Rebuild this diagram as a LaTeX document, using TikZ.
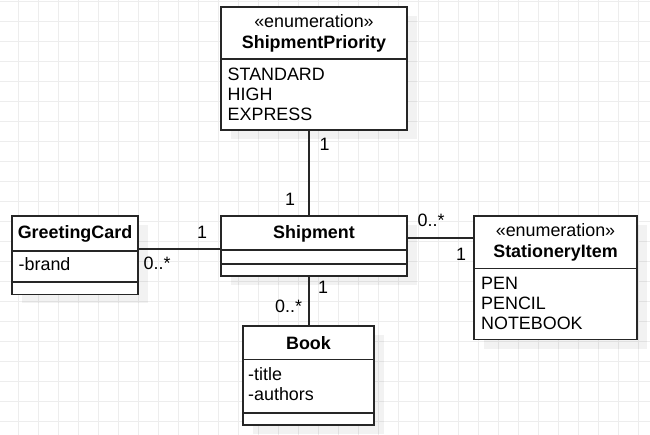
\documentclass[tikz,border=0pt]{standalone}
\usepackage{fontspec}
\setmainfont{Liberation Sans}
\usetikzlibrary{positioning,calc,shadows}

\tikzset{
  cls/.style 2 args={draw=black!85, line width=1.3pt, fill=white, inner sep=0pt, outer sep=0pt,
    minimum width=#1pt, minimum height=#2pt},
  shade/.style={drop shadow={shadow xshift=10pt, shadow yshift=-9pt, fill=black, opacity=0.05}},
  assoc/.style={draw=black!85, line width=1.3pt},
  txt/.style={inner sep=0pt, font=\fontsize{17.9}{20}\selectfont},
  ttl/.style={txt, anchor=base, font=\fontsize{17.9}{20}\selectfont\bfseries},
  stereo/.style={txt, anchor=base},
  item/.style={txt, anchor=base west},
  mult/.style={txt, anchor=base west},
}

\begin{document}
\begin{tikzpicture}[x=1pt, y=-1pt]
        \useasboundingbox (0,0) rectangle (650,435);
        %% Grid
        \begin{scope}
          \clip (0,0) rectangle (650,435);
          \draw[black!7, line width=0.9pt, shift={(18.3,1)}] (-40,-40) grid[step=20pt] (660,460);
        \end{scope}
        %% ShipmentPriority
        \node[cls={186}{52}, shade, anchor=north west] (priohead) at (221,7) {};
        \node[cls={186}{71}, shade, below=0pt of priohead] (priobody) {};
        \node[stereo] (prio-st) at (314,27.7) {«enumeration»};
        \node[ttl] (prio-nm) at (314,48.3) {ShipmentPriority};
        \foreach \t [count=\i] in {STANDARD,HIGH,EXPRESS}
          \node[item] (prio-\i) at (227.5,60.5+20*\i) {\t};
        %% Shipment
        \node[cls={186}{34}, shade, anchor=north west] (shiphead) at (221,216) {};
        \node[cls={186}{14}, shade, below=0pt of shiphead] (shipattr) {};
        \node[cls={186}{12}, shade, below=0pt of shipattr] (shipops) {};
        \node[ttl] (ship-nm) at (314,239) {Shipment};
        %% GreetingCard
        \node[cls={126}{35}, shade, anchor=north west] (cardhead) at (12,216) {};
        \node[cls={126}{31}, shade, below=0pt of cardhead] (cardattr) {};
        \node[cls={126}{12.5}, shade, below=0pt of cardattr] (cardops) {};
        \node[ttl] (card-nm) at (75,239) {GreetingCard};
        \node[item] (card-1) at (18.5,271) {-brand};
        %% StationeryItem
        \node[cls={163}{52.5}, shade, anchor=north west] (stathead) at (474,216) {};
        \node[cls={163}{71}, shade, below=0pt of stathead] (statbody) {};
        \node[stereo] (stat-st) at (555.5,236.7) {«enumeration»};
        \node[ttl] (stat-nm) at (555.5,257.3) {StationeryItem};
        \foreach \t [count=\i] in {PEN,PENCIL,NOTEBOOK}
          \node[item] (stat-\i) at (481,269.3+20*\i) {\t};
        %% Book
        \node[cls={131}{33.5}, shade, anchor=north west] (bookhead) at (243,326) {};
        \node[cls={131}{53.5}, shade, below=0pt of bookhead] (bookattr) {};
        \node[cls={131}{12}, shade, below=0pt of bookattr] (bookops) {};
        \node[ttl] (book-nm) at (308.5,349.3) {Book};
        \foreach \t [count=\i] in {-title,-authors}
          \node[item] (book-\i) at (248,359.5+20.5*\i) {\t};
        %% Associations
        \coordinate (vx) at (309,0);
        \coordinate (hy) at (0,249);
        \coordinate (sy) at (0,238);
        \draw[assoc] (priobody.south -| vx) -- (shiphead.north -| vx);
        \draw[assoc] (shipops.south -| vx) -- (bookhead.north -| vx);
        \draw[assoc] (cardhead.east |- hy) -- (shiphead.west |- hy);
        \draw[assoc] (shiphead.east |- sy) -- (stathead.west |- sy);
        %% Multiplicities
        \node[mult] (m-prio) at (319.5,151) {1};
        \node[mult] (m-shiptop) at (285,206) {1};
        \node[mult] (m-shipcard) at (197,239) {1};
        \node[mult] (m-card) at (143.5,270) {0..*};
        \node[mult] (m-shipstat) at (417.5,226.7) {0..*};
        \node[mult] (m-stat) at (456,261) {1};
        \node[mult] (m-shipbook) at (318,293.3) {1};
        \node[mult] (m-book) at (275,312.7) {0..*};
    \end{tikzpicture}
\end{document}
